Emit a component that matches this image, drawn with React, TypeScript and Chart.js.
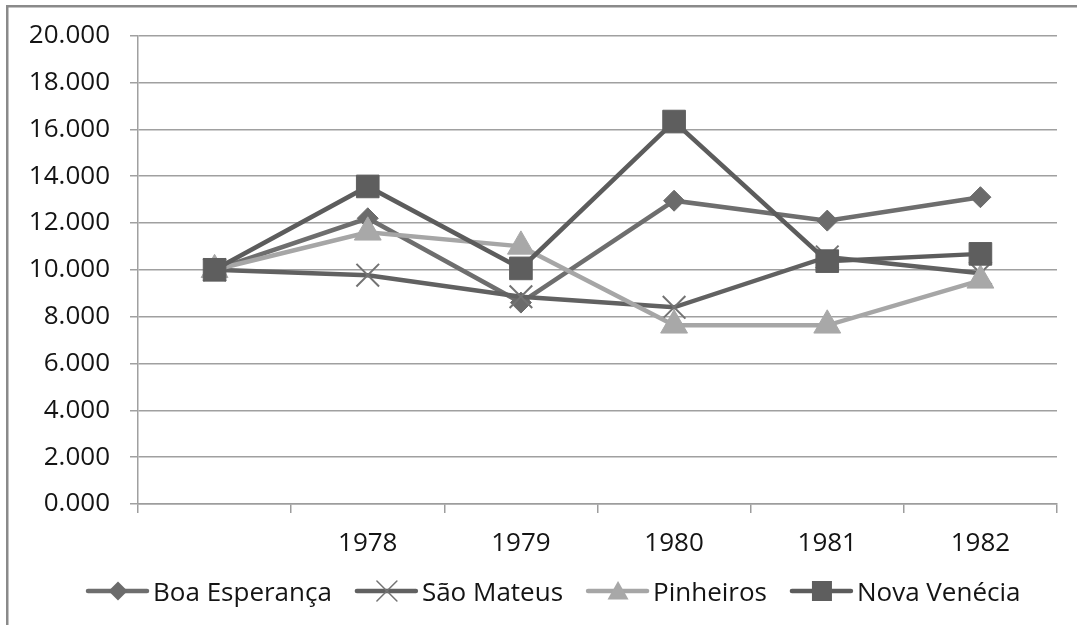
import React, { useEffect, useRef } from 'react';
import { Chart, registerables } from 'chart.js';

Chart.register(...registerables);

const categories = ['', '1978', '1979', '1980', '1981', '1982'];
const boaEsperanca = [10, 12.2, 8.6, 12.95, 12.1, 13.1];
const saoMateus = [10, 9.77, 8.85, 8.4, 10.55, 9.85];
const pinheiros = [10, 11.6, 11.0, 7.63, 7.63, 9.55];
const novaVenecia = [10, 13.56, 10.06, 16.33, 10.37, 10.68];
const seriesNames = ['Boa Esperança', 'São Mateus', 'Pinheiros', 'Nova Venécia'];
const yMin = 0;
const yMax = 20;
const yStep = 2;

const FONT = '"Open Sans", "Noto Sans", sans-serif';
const FONT_SIZE = 26;
const TEXT_COLOR = '#141414';

const seriesStyles = [
  { color: '#6e6e6e', pointColor: '#6b6b6b', point: 'rectRot', radius: 10.5, pbw: 1, order: 3 },
  { color: '#616161', pointColor: '#737373', point: 'crossRot', radius: 16, pbw: 2, order: 2 },
  { color: '#a6a6a6', pointColor: '#a8a8a8', point: 'triangle', radius: 15.5, pbw: 1, order: 1 },
  { color: '#5c5c5c', pointColor: '#5e5e5e', point: 'rect', radius: 16, pbw: 1, order: 0 },
];

function drawMarker(ctx: CanvasRenderingContext2D, kind: string, x: number, y: number, color: string) {
  ctx.save();
  ctx.fillStyle = color;
  ctx.strokeStyle = color;
  ctx.beginPath();
  if (kind === 'rectRot') {
    const r = 9.5;
    ctx.moveTo(x - r, y);
    ctx.lineTo(x, y - r);
    ctx.lineTo(x + r, y);
    ctx.lineTo(x, y + r);
    ctx.closePath();
    ctx.fill();
  } else if (kind === 'crossRot') {
    const r = 10;
    ctx.lineWidth = 1.5;
    ctx.moveTo(x - r, y - r);
    ctx.lineTo(x + r, y + r);
    ctx.moveTo(x - r, y + r);
    ctx.lineTo(x + r, y - r);
    ctx.stroke();
  } else if (kind === 'triangle') {
    ctx.moveTo(x, y - 10);
    ctx.lineTo(x + 10.5, y + 8.5);
    ctx.lineTo(x - 10.5, y + 8.5);
    ctx.closePath();
    ctx.fill();
  } else {
    ctx.rect(x - 10, y - 10, 20, 20);
    ctx.fill();
  }
  ctx.restore();
}

const framePlugin = {
  id: 'frameLegend',
  beforeDraw(chart: any) {
    const ctx = chart.ctx as CanvasRenderingContext2D;
    ctx.save();
    ctx.fillStyle = '#ffffff';
    ctx.fillRect(0, 0, chart.width, chart.height);
    ctx.restore();
  },
  afterDraw(chart: any) {
    const ctx = chart.ctx as CanvasRenderingContext2D;
    ctx.save();
    // frame (top and left edges)
    ctx.fillStyle = '#8a8a8a';
    ctx.fillRect(6, 5, chart.width - 6, 2.5);
    ctx.fillRect(6, 5, 2.5, chart.height - 5);

    // legend
    const ly = 591;
    let x = 86;
    ctx.font = `${FONT_SIZE}px ${FONT}`;
    ctx.textBaseline = 'alphabetic';
    ctx.textAlign = 'left';
    seriesNames.forEach((name, i) => {
      const st = seriesStyles[i];
      ctx.strokeStyle = st.color;
      ctx.lineWidth = 4.5;
      ctx.lineCap = 'round';
      ctx.beginPath();
      ctx.moveTo(x + 2, ly);
      ctx.lineTo(x + 61, ly);
      ctx.stroke();
      drawMarker(ctx, st.point, x + 32, ly, st.pointColor);
      ctx.fillStyle = TEXT_COLOR;
      const tx = x + 67;
      ctx.fillText(name, tx, ly + 9.5);
      const w = ctx.measureText(name).width;
      x = tx + w + 23;
    });
    ctx.restore();
  },
};

export default function App() {
  const ref = useRef<HTMLCanvasElement | null>(null);

  useEffect(() => {
    document.body.style.margin = '0';
    const canvas = ref.current;
    if (!canvas) return;
    Chart.defaults.font.family = FONT;
    Chart.defaults.font.size = FONT_SIZE;
    Chart.defaults.color = TEXT_COLOR;

    const seriesData = [boaEsperanca, saoMateus, pinheiros, novaVenecia];
    const datasets = seriesData.map((d, i) => {
      const st = seriesStyles[i];
      return {
        label: seriesNames[i],
        data: d,
        borderColor: st.color,
        backgroundColor: st.pointColor,
        borderWidth: 4.5,
        pointStyle: st.point,
        pointRadius: st.radius,
        pointHoverRadius: st.radius,
        pointBackgroundColor: st.pointColor,
        pointBorderColor: st.pointColor,
        pointBorderWidth: st.pbw,
        tension: 0,
        fill: false,
        order: st.order,
        clip: false as any,
      };
    });

    const chart = new Chart(canvas, {
      type: 'line',
      data: { labels: categories, datasets },
      options: {
        animation: false,
        responsive: false,
        devicePixelRatio: 1,
        layout: { padding: { top: 35, right: 20, bottom: 0, left: 0 } },
        plugins: {
          legend: { display: false },
          tooltip: { enabled: false },
          title: { display: false },
        },
        scales: {
          x: {
            type: 'category',
            offset: true,
            grid: {
              offset: true,
              drawOnChartArea: false,
              drawTicks: true,
              tickLength: 9,
              color: '#9d9d9d',
              lineWidth: 1.5,
            },
            border: { color: '#9d9d9d', width: 1.5 },
            ticks: {
              maxRotation: 0,
              autoSkip: false,
              padding: 15,
              color: TEXT_COLOR,
              font: { size: FONT_SIZE, family: FONT },
            },
            afterFit: (s: any) => {
              s.height = 121;
            },
          },
          y: {
            min: yMin,
            max: yMax,
            ticks: {
              stepSize: yStep,
              padding: 20,
              color: TEXT_COLOR,
              font: { size: FONT_SIZE, family: FONT },
              callback: (v: any) => Number(v).toFixed(3),
            },
            grid: {
              color: '#a0a0a0',
              lineWidth: 1.5,
              tickLength: 8,
              drawTicks: true,
            },
            border: { color: '#a0a0a0', width: 1.5 },
            afterFit: (s: any) => {
              s.width = 138;
            },
          },
        },
      },
      plugins: [framePlugin],
    } as any);

    return () => {
      chart.destroy();
    };
  }, []);

  return (
    <div style={{ position: 'absolute', left: 0, top: 0, width: 1077, height: 625, background: '#fff' }}>
      <canvas ref={ref} width={1077} height={625} style={{ display: 'block', width: 1077, height: 625 }} />
    </div>
  );
}
